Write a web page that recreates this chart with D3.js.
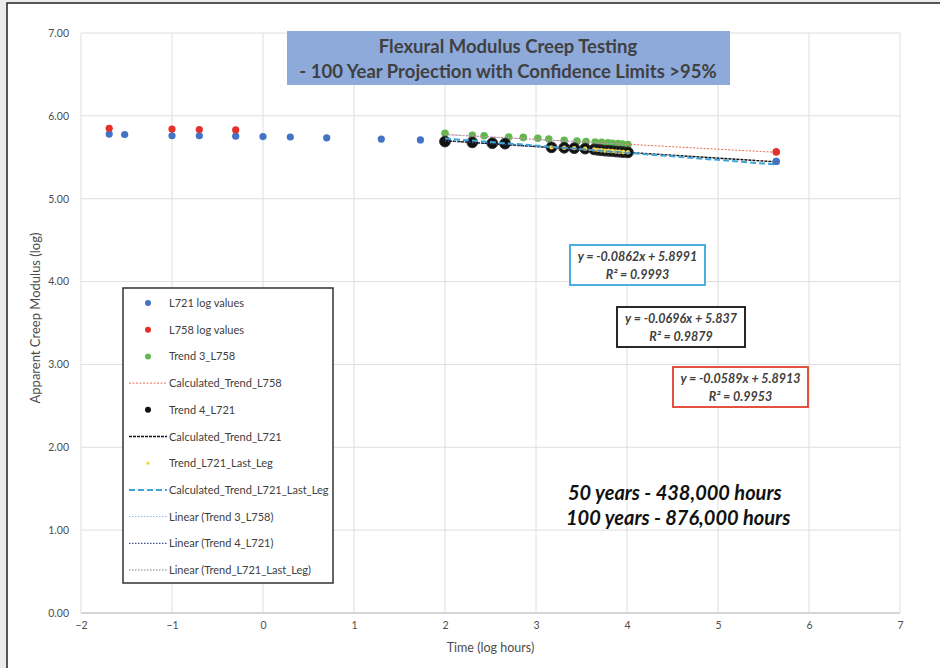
<!DOCTYPE html>
<html lang="en">
<head>
<meta charset="utf-8">
<title>Flexural Modulus Creep Testing</title>
<script src="https://cdn.jsdelivr.net/npm/d3@7"></script>
<style>
  body { margin: 0; background: #ececec; }
  text { font-family: Lato, "Open Sans", sans-serif; }
</style>
</head>
<body>
<div id="chart"></div>
<script>
// ---- data ----
const xTicks = [-2, -1, 0, 1, 2, 3, 4, 5, 6, 7];
const yTicks = [0, 1, 2, 3, 4, 5, 6, 7];

const l721X = [-1.69, -1.52, -1.0, -0.70, -0.30, 0.0, 0.30, 0.70, 1.30, 1.73, 5.64];
const l721Y = [5.78, 5.775, 5.76, 5.76, 5.755, 5.75, 5.745, 5.735, 5.72, 5.71, 5.45];

const l758X = [-1.69, -1.0, -0.70, -0.30, 5.64];
const l758Y = [5.85, 5.84, 5.835, 5.83, 5.565];

const trend3X = [2.0, 2.3, 2.43, 2.7, 2.86, 3.02, 3.14, 3.31, 3.45, 3.55, 3.65, 3.72, 3.79, 3.84, 3.90, 3.95, 4.01];
const trend3Y = [5.79, 5.765, 5.76, 5.745, 5.74, 5.73, 5.72, 5.705, 5.695, 5.69, 5.685, 5.68, 5.675, 5.67, 5.665, 5.66, 5.655];

const trend4X = [2.0, 2.3, 2.52, 2.66, 3.17, 3.31, 3.42, 3.54, 3.64, 3.68, 3.72, 3.76, 3.80, 3.84, 3.88, 3.92, 3.96, 4.01];
const trend4Y = [5.69, 5.68, 5.67, 5.665, 5.62, 5.615, 5.61, 5.605, 5.595, 5.59, 5.585, 5.58, 5.578, 5.575, 5.57, 5.567, 5.563, 5.56];

const lastLegX = [3.17, 3.31, 3.42, 3.54, 3.64, 3.68, 3.72, 3.76, 3.80, 3.84, 3.88, 3.92, 3.96, 4.01];
const lastLegY = [5.62, 5.615, 5.61, 5.605, 5.595, 5.59, 5.585, 5.58, 5.578, 5.575, 5.57, 5.567, 5.563, 5.56];

// calculated projection lines (end points)
const calcL758X = [2.0, 5.64], calcL758Y = [5.775, 5.56];
const calcL721X = [2.0, 5.64], calcL721Y = [5.70, 5.445];
const calcLastX = [2.0, 5.64], calcLastY = [5.727, 5.413];

// excel linear trendlines (end points over data range)
const lin3X = [2.0, 4.01], lin3Y = [5.774, 5.655];
const lin4X = [2.0, 4.01], lin4Y = [5.698, 5.558];
const linLastX = [3.17, 4.01], linLastY = [5.626, 5.553];

const eqTexts = [
  ["y = -0.0862x + 5.8991", "R² = 0.9993"],
  ["y = -0.0696x + 5.837", "R² = 0.9879"],
  ["y = -0.0589x + 5.8913", "R² = 0.9953"]
];

const w = 940, h = 668;

const svg = d3.select("#chart").append("svg")
  .attr("width", w)
  .attr("height", h);

// page frame
svg.append("rect")
  .attr("x", 7).attr("y", 3)
  .attr("width", 960).attr("height", 700)
  .attr("fill", "white")
  .attr("stroke", "#222")
  .attr("stroke-width", 1.5);

const x = d3.scaleLinear().domain([-2, 7]).range([81, 900]);
const y = d3.scaleLinear().domain([0, 7]).range([613, 33]);

// grid
svg.append("g").selectAll("line")
  .data(yTicks)
  .enter().append("line")
    .attr("x1", x(-2)).attr("x2", x(7))
    .attr("y1", d => y(d)).attr("y2", d => y(d))
    .attr("stroke", d => d === 0 ? "#c8c8c8" : "#dedede")
    .attr("stroke-width", d => d === 0 ? 1.5 : 1);

svg.append("g").selectAll("line")
  .data(xTicks)
  .enter().append("line")
    .attr("x1", d => x(d)).attr("x2", d => x(d))
    .attr("y1", y(0)).attr("y2", y(7))
    .attr("stroke", "#dedede");

// axes (labels only)
const xAxis = svg.append("g")
  .attr("transform", "translate(0," + (y(0) + 6) + ")")
  .call(d3.axisBottom(x).tickValues(xTicks).tickSize(0).tickFormat(d3.format("d")));
xAxis.select(".domain").remove();
xAxis.selectAll("text").attr("fill", "#4d4d4d").style("font-size", "10.5px");

const yAxis = svg.append("g")
  .attr("transform", "translate(" + (x(-2) - 9) + ",0)")
  .call(d3.axisLeft(y).tickValues(yTicks).tickSize(0).tickFormat(d3.format(".2f")));
yAxis.select(".domain").remove();
yAxis.selectAll("text").attr("fill", "#4d4d4d").style("font-size", "10.5px");

svg.append("text")
  .attr("x", (x(-2) + x(7)) / 2).attr("y", 652)
  .attr("text-anchor", "middle")
  .attr("fill", "#4d4d4d")
  .style("font-size", "12.5px")
  .text("Time (log hours)");

svg.append("text")
  .attr("transform", "translate(40," + 318 + ") rotate(-90)")
  .attr("text-anchor", "middle")
  .attr("fill", "#4d4d4d")
  .style("font-size", "13px")
  .text("Apparent Creep Modulus (log)");

// helpers
function zip(xs, ys) { return xs.map((d, i) => [d, ys[i]]); }
const line = d3.line().x(d => x(d[0])).y(d => y(d[1]));

function drawLine(xs, ys, color, width, dash) {
  svg.append("path")
    .datum(zip(xs, ys))
    .attr("d", line)
    .attr("fill", "none")
    .attr("stroke", color)
    .attr("stroke-width", width)
    .attr("stroke-dasharray", dash);
}

function drawPoints(xs, ys, color, r, stroke) {
  svg.append("g").selectAll("circle")
    .data(zip(xs, ys))
    .enter().append("circle")
      .attr("cx", d => x(d[0]))
      .attr("cy", d => y(d[1]))
      .attr("r", r)
      .attr("fill", color)
      .attr("stroke", stroke || "none")
      .attr("stroke-width", 1);
}

// series styles (also used by legend)
const styles = [
  { name: "L721 log values", type: "pt", color: "#4472c4", r: 3.6 },
  { name: "L758 log values", type: "pt", color: "#e3302a", r: 3.6 },
  { name: "Trend 3_L758", type: "pt", color: "#62b84e", r: 3.8 },
  { name: "Calculated_Trend_L758", type: "ln", color: "#ea6a52", w: 1, dash: "2,1.5" },
  { name: "Trend 4_L721", type: "pt", color: "#111", r: 5.4 },
  { name: "Calculated_Trend_L721", type: "ln", color: "#111", w: 1.4, dash: "3,1" },
  { name: "Trend_L721_Last_Leg", type: "pt", color: "#f2dc50", r: 2.2 },
  { name: "Calculated_Trend_L721_Last_Leg", type: "ln", color: "#3ea5dc", w: 2, dash: "6,3" },
  { name: "Linear (Trend 3_L758)", type: "ln", color: "#8db4e2", w: 1, dash: "1.5,1.5" },
  { name: "Linear (Trend 4_L721)", type: "ln", color: "#44508c", w: 1.2, dash: "1.5,1.5" },
  { name: "Linear (Trend_L721_Last_Leg)", type: "ln", color: "#7f7f7f", w: 1.2, dash: "1.5,1.5" }
];
const s = styles;

drawPoints(l721X, l721Y, s[0].color, s[0].r);
drawPoints(l758X, l758Y, s[1].color, s[1].r);
drawPoints(trend3X, trend3Y, s[2].color, s[2].r);
drawLine(calcL758X, calcL758Y, s[3].color, s[3].w, s[3].dash);
drawLine(lin3X, lin3Y, s[8].color, s[8].w, s[8].dash);
drawPoints(trend4X, trend4Y, s[4].color, s[4].r, "#333");
drawLine(calcL721X, calcL721Y, s[5].color, s[5].w, s[5].dash);
drawLine(lin4X, lin4Y, s[9].color, s[9].w, s[9].dash);
drawPoints(lastLegX, lastLegY, s[6].color, s[6].r);
drawLine(calcLastX, calcLastY, s[7].color, s[7].w, s[7].dash);
drawLine(linLastX, linLastY, s[10].color, s[10].w, s[10].dash);
// projection end points on top
drawPoints([l721X[l721X.length - 1]], [l721Y[l721Y.length - 1]], s[0].color, s[0].r);
drawPoints([l758X[l758X.length - 1]], [l758Y[l758Y.length - 1]], s[1].color, s[1].r);

// title box
svg.append("rect")
  .attr("x", 287).attr("y", 31)
  .attr("width", 443).attr("height", 54)
  .attr("fill", "#8eaadb");
const title = svg.append("text")
  .attr("x", 508).attr("text-anchor", "middle")
  .attr("fill", "#404040")
  .style("font-size", "18.5px")
  .style("font-weight", "bold");
title.append("tspan").attr("x", 508).attr("y", 53).text("Flexural Modulus Creep Testing");
title.append("tspan").attr("x", 508).attr("y", 78).text("- 100 Year Projection with Confidence Limits >95%");

// legend
const lg = svg.append("g");
lg.append("rect")
  .attr("x", 123).attr("y", 288)
  .attr("width", 210).attr("height", 295)
  .attr("fill", "white")
  .attr("stroke", "#333")
  .attr("stroke-width", 1.5);

const items = lg.selectAll("g.item")
  .data(styles)
  .enter().append("g")
    .attr("class", "item")
    .attr("transform", (d, i) => "translate(0," + (303 + i * 26.7) + ")");

items.filter(d => d.type === "pt").append("circle")
  .attr("cx", 148).attr("cy", 0)
  .attr("r", d => d.name === "Trend_L721_Last_Leg" ? 1.8 : 3)
  .attr("fill", d => d.color);

items.filter(d => d.type === "ln").append("line")
  .attr("x1", 129).attr("x2", 167)
  .attr("y1", 0).attr("y2", 0)
  .attr("stroke", d => d.color)
  .attr("stroke-width", d => d.w)
  .attr("stroke-dasharray", d => d.dash);

items.append("text")
  .attr("x", 169).attr("y", 4)
  .attr("fill", "#404040")
  .style("font-size", "11px")
  .text(d => d.name);

// equation boxes
const eqBoxes = [
  { x: 570, y: 245, w: 135, h: 40, color: "#3aa6dc" },
  { x: 617, y: 307, w: 128, h: 40, color: "#111" },
  { x: 673, y: 367, w: 135, h: 40, color: "#e0402a" }
];
eqBoxes.forEach((b, i) => {
  svg.append("rect")
    .attr("x", b.x).attr("y", b.y)
    .attr("width", b.w).attr("height", b.h)
    .attr("fill", "white")
    .attr("stroke", b.color)
    .attr("stroke-width", 1.8);
  svg.append("text")
    .attr("x", b.x + b.w / 2).attr("y", b.y + 16)
    .attr("text-anchor", "middle")
    .attr("fill", "#404040")
    .style("font-size", "12.5px").style("font-weight", "bold").style("font-style", "italic")
    .text(eqTexts[i][0]);
  svg.append("text")
    .attr("x", b.x + b.w / 2).attr("y", b.y + 34)
    .attr("text-anchor", "middle")
    .attr("fill", "#404040")
    .style("font-size", "12.5px").style("font-weight", "bold").style("font-style", "italic")
    .text(eqTexts[i][1]);
});

// note
const note = svg.append("text")
  .attr("fill", "#111")
  .style("font-size", "20px").style("font-weight", "bold").style("font-style", "italic");
note.append("tspan").attr("x", 568).attr("y", 500).text("50 years - 438,000 hours");
note.append("tspan").attr("x", 566).attr("y", 525).text("100 years - 876,000 hours");
</script>
</body>
</html>
